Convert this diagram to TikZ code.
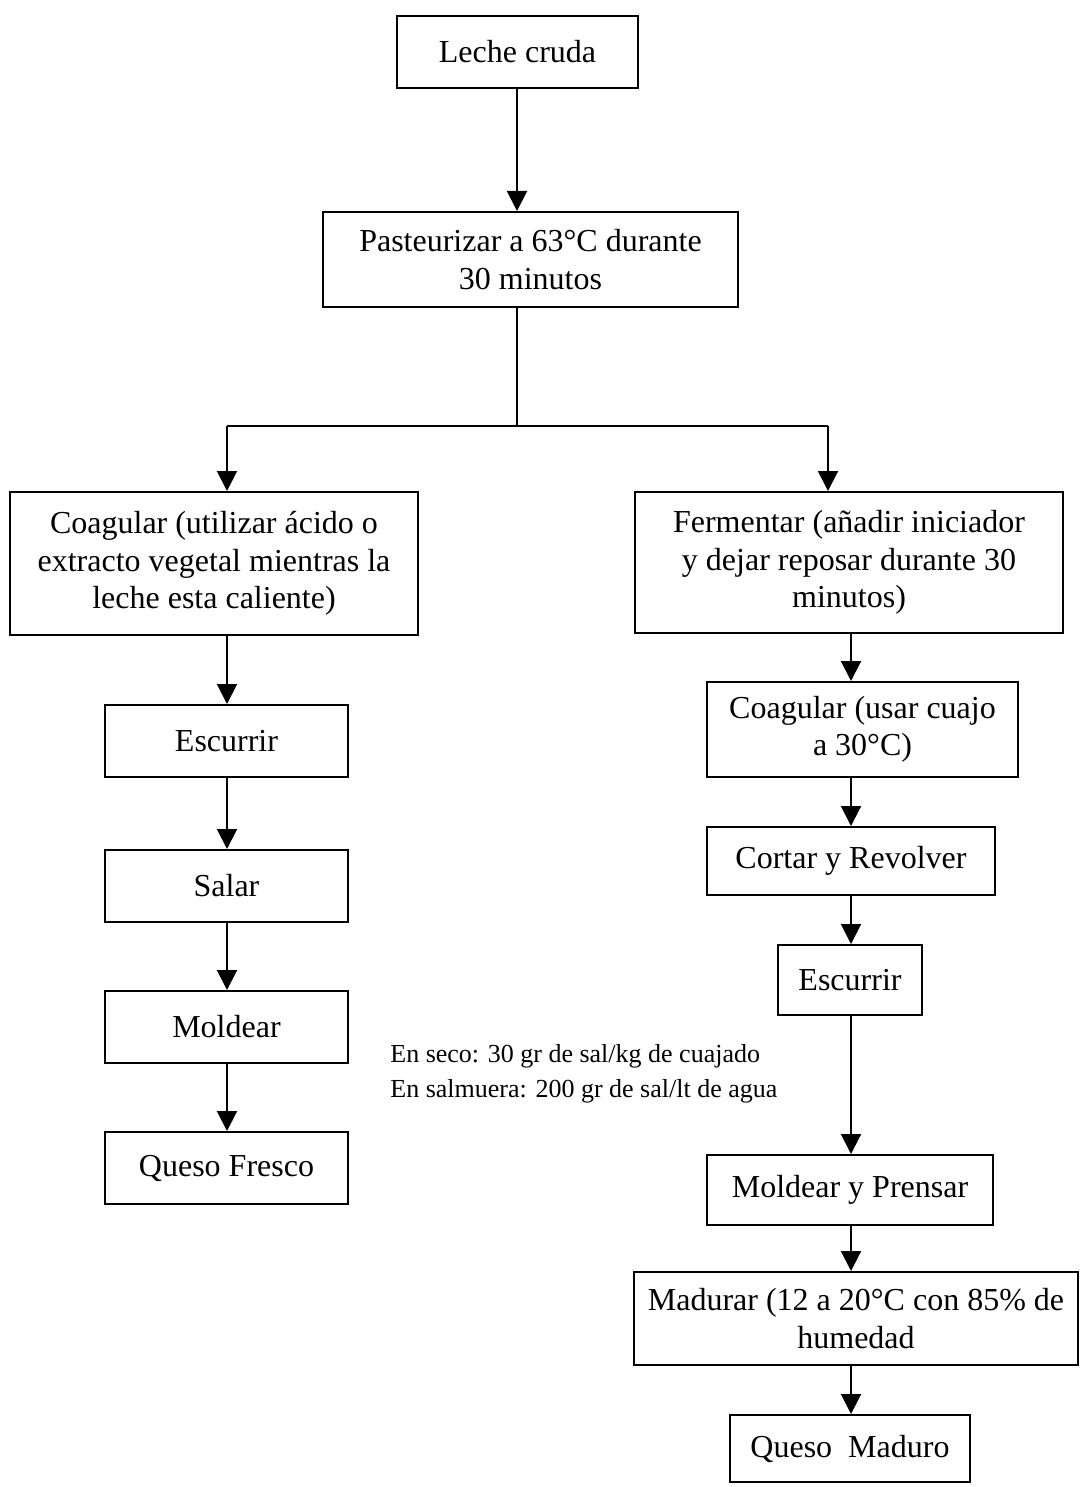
\documentclass[tikz,border=0pt]{standalone}
\usepackage{fontspec}
\setmainfont{Liberation Serif}
\usetikzlibrary{arrows.meta}
\newdimen\px
\px=0.5pt
\tikzset{
  procbox/.style 2 args={draw, line width=1pt, rectangle, inner sep=0pt,
    minimum width=#1\px, minimum height=#2\px, align=center,
    font=\fontsize{16}{18.75}\selectfont},
  flow/.style={line width=1pt, -{Triangle[width=10pt,length=10pt]}},
  plain/.style={line width=1pt},
  note/.style={align=left, inner sep=0pt, font=\fontsize{13}{17.5}\selectfont}
}
\begin{document}
\begin{tikzpicture}[x=0.5pt, y=-0.5pt]
\useasboundingbox (0,0) rectangle (1083,1487);

% main trunk
\node[procbox={241}{72}] (leche) at (517.5,52) {Leche cruda};
\node[procbox={415}{95}] (past) at (530.5,259.5) {Pasteurizar a 63°C durante\\30 minutos};

% left branch: fresh cheese
\node[procbox={408}{143}] (coagL) at (214,563.5) {Coagular (utilizar ácido o\\extracto vegetal mientras la\\leche esta caliente)};
\node[procbox={243}{72}] (escL) at (226.5,741) {Escurrir};
\node[procbox={243}{72}] (salar) at (226.5,886) {Salar};
\node[procbox={243}{72}] (moldL) at (226.5,1027) {Moldear};
\node[procbox={243}{72}] (quesoF) at (226.5,1168) {Queso Fresco};

% right branch: ripened cheese
\node[procbox={428}{141}] (ferm) at (849,562.5) {Fermentar (añadir iniciador\\y dejar reposar durante 30\\minutos)};
\node[procbox={311}{95}] (coagR) at (862.5,729.5) {Coagular (usar cuajo\\a 30°C)};
\node[procbox={288}{68}] (cortar) at (851,861) {Cortar y Revolver};
\node[procbox={144}{70}] (escR) at (850,980) {Escurrir};
\node[procbox={286}{70}] (moldR) at (850,1190) {Moldear y Prensar};
\node[procbox={444}{93}] (madurar) at (856,1318.5) {Madurar (12 a 20°C con 85\% de\\humedad};
\node[procbox={240}{67}] (quesoM) at (850,1448.5) {Queso\ \ Maduro};

% salting note
\node[note, anchor=west] (sal) at (390,1074) {En seco: 30 gr de sal/kg de cuajado\\En salmuera: 200 gr de sal/lt de agua};

% split point and column axes
\coordinate (jc) at (517,426);
\coordinate (jl) at (227,426);
\coordinate (jr) at (828,426);
\coordinate (lc) at (227,0);
\coordinate (rc) at (851,0);

\draw[flow] (leche.south -| jc) -- (past.north -| jc);
\draw[plain] (past.south -| jc) -- (jc);
\draw[plain] (jl) -- (jr);
\draw[flow] (jl) -- (jl |- coagL.north);
\draw[flow] (jr) -- (jr |- ferm.north);

\draw[flow] (coagL.south -| lc) -- (escL.north -| lc);
\draw[flow] (escL.south -| lc) -- (salar.north -| lc);
\draw[flow] (salar.south -| lc) -- (moldL.north -| lc);
\draw[flow] (moldL.south -| lc) -- (quesoF.north -| lc);

\draw[flow] (ferm.south -| rc) -- (coagR.north -| rc);
\draw[flow] (coagR.south -| rc) -- (cortar.north -| rc);
\draw[flow] (cortar.south -| rc) -- (escR.north -| rc);
\draw[flow] (escR.south -| rc) -- (moldR.north -| rc);
\draw[flow] (moldR.south -| rc) -- (madurar.north -| rc);
\draw[flow] (madurar.south -| rc) -- (quesoM.north -| rc);
\end{tikzpicture}
\end{document}
